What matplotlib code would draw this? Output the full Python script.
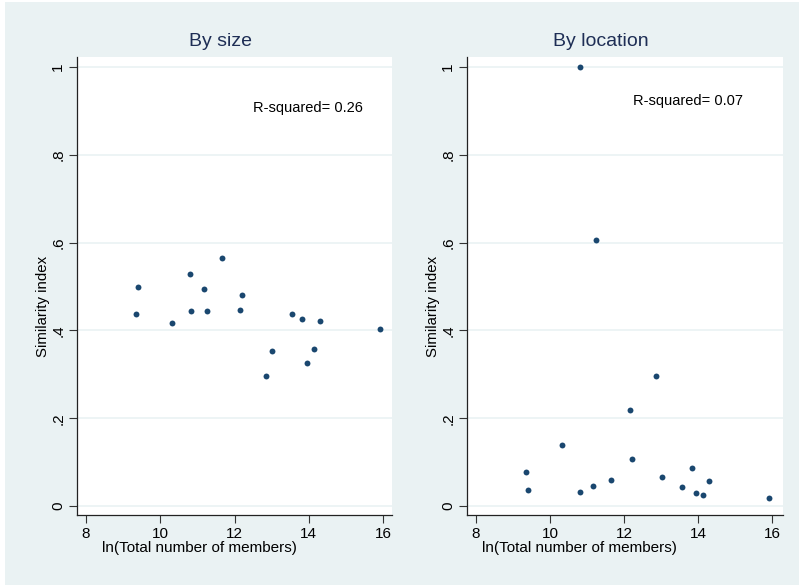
import matplotlib
matplotlib.use("Agg")
import matplotlib.pyplot as plt
from matplotlib.patches import Rectangle

# Datos
ln_members = [9.34, 9.41, 10.31, 10.82, 10.81, 11.17, 11.25, 11.65, 12.15,
              12.20, 12.85, 13.02, 13.55, 13.83, 13.94, 14.13, 14.30, 15.91]
sim_size = [0.437, 0.500, 0.418, 0.445, 0.528, 0.494, 0.445, 0.566, 0.446,
            0.481, 0.296, 0.354, 0.438, 0.426, 0.326, 0.358, 0.422, 0.403]
sim_location = [0.077, 0.036, 0.140, 0.033, 1.000, 0.045, 0.607, 0.059, 0.219,
                0.108, 0.296, 0.066, 0.043, 0.086, 0.030, 0.025, 0.058, 0.019]

titles = ["By size", "By location"]
r2_labels = ["R-squared= 0.26", "R-squared= 0.07"]
xticks = [8, 10, 12, 14, 16]
yticks = [0, 0.2, 0.4, 0.6, 0.8, 1.0]
ytick_labels = ["0", ".2", ".4", ".6", ".8", "1"]

bg = "#EAF2F3"
navy = "#1A476F"
title_col = "#1E2E55"

plt.rcParams['font.family'] = ['Liberation Sans', 'DejaVu Sans']

fig = plt.figure(figsize=(7.99, 5.85), dpi=100, facecolor="white")
fig.patches.append(Rectangle((5 / 799, 0), 1, 1 - 2 / 585, transform=fig.transFigure,
                             facecolor=bg, edgecolor="none", zorder=-10))

W, H = 799.0, 585.0
panels = [
    dict(l=77, r=392, xlim=(7.758, 16.242), title_x=220, r2=(253, 108), yl=43, xl=(199, 548)),
    dict(l=467, r=783, xlim=(7.757, 16.29), title_x=601, r2=(633, 101), yl=433, xl=(579, 548)),
]
top, bottom = 57, 515
series = [sim_size, sim_location]

for i, p in enumerate(panels):
    ax = fig.add_axes([p["l"] / W, 1 - bottom / H, (p["r"] - p["l"]) / W, (bottom - top) / H])
    ax.set_facecolor("white")
    for yv in yticks:
        ax.axhline(yv, color=bg, lw=1.2, zorder=0)
    ax.scatter(ln_members, series[i], s=18, color=navy, zorder=3, linewidths=0)
    ax.set_xlim(*p["xlim"])
    ax.set_ylim(-0.0205, 1.0228)
    ax.set_xticks(xticks)
    ax.set_xticklabels([str(t) for t in xticks], fontsize=11)
    ax.set_yticks(yticks)
    ax.set_yticklabels(ytick_labels, fontsize=11, rotation=90, va="center")
    ax.tick_params(axis="both", length=6, width=0.8, color="#333333", pad=2.5)
    for s in ["top", "right"]:
        ax.spines[s].set_visible(False)
    for s in ["left", "bottom"]:
        ax.spines[s].set_color("#222222")
        ax.spines[s].set_linewidth(0.9)

    # Textos en coordenadas de pixel
    fig.text(p["title_x"] / W, 1 - 42 / H, titles[i], fontsize=14, color=title_col,
             ha="center", va="center")
    fig.text(p["r2"][0] / W, 1 - p["r2"][1] / H, r2_labels[i], fontsize=10.5,
             ha="left", va="center")
    fig.text(p["xl"][0] / W, 1 - p["xl"][1] / H, "ln(Total number of members)",
             fontsize=11, ha="center", va="center")
    fig.text(p["yl"] / W, 1 - 306 / H, "Similarity index", fontsize=10.8, rotation=90,
             ha="center", va="center")

fig.savefig("out.png", dpi=100, facecolor=fig.get_facecolor())
